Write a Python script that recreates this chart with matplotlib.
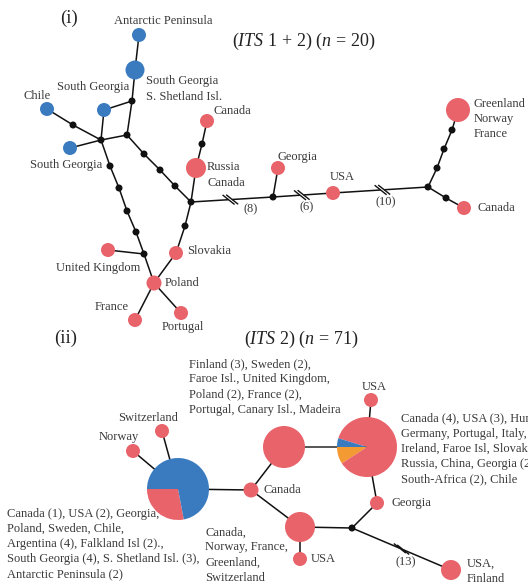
import numpy as np
import matplotlib
matplotlib.use("Agg")
import matplotlib.pyplot as plt
from matplotlib.patches import Circle, Wedge

plt.rcParams['font.family'] = ['Liberation Serif', 'DejaVu Serif']
plt.rcParams['mathtext.fontset'] = 'custom'
plt.rcParams['mathtext.rm'] = 'Liberation Serif'
plt.rcParams['mathtext.it'] = 'Liberation Serif:italic'

RED = '#e8636a'
BLUE = '#3a7bbf'
ORANGE = '#f39a33'
TXT = '#3a3a3a'

# ---- network (i): ITS 1+2, n = 20 ----
# node: (x, y, kind, radius)   kind: r = sampled red, b = sampled blue, m = median vector
nodes_i = {
    'ant': (139, 35, 'b', 7), 'sgs': (135, 70, 'b', 9.5), 'm1': (132, 101, 'm', 3.5),
    'sg1': (104, 110, 'b', 7), 'm2': (127, 135, 'm', 3.5), 'm3': (101, 140, 'm', 3.5),
    'm4': (73, 125, 'm', 3.5), 'chile': (47, 109, 'b', 7), 'sg2': (70, 148, 'b', 7),
    'm5': (144, 154, 'm', 3.5), 'm6': (160, 170, 'm', 3.5), 'm7': (175, 186, 'm', 3.5),
    'hub1': (191, 202, 'm', 3.5), 'rc': (196, 168, 'r', 10), 'm8': (202, 144, 'm', 3.5),
    'can1': (207, 121, 'r', 7), 'm9': (110, 166, 'm', 3.5), 'm10': (119, 188, 'm', 3.5),
    'm11': (127, 211, 'm', 3.5), 'm12': (136, 232, 'm', 3.5), 'm13': (144, 254, 'm', 3.5),
    'uk': (108, 250, 'r', 7), 'pol': (154, 283, 'r', 7.5), 'fra': (135, 320, 'r', 7),
    'por': (181, 313, 'r', 7), 'slo': (176, 253, 'r', 7), 'm14': (185, 226, 'm', 3.5),
    'hubg': (273, 197, 'm', 3.5), 'geo': (278, 168, 'r', 7), 'usa': (333, 193, 'r', 7),
    'hub2': (428, 187, 'm', 3.5), 'm15': (437, 168, 'm', 3.5), 'm16': (444, 149, 'm', 3.5),
    'm17': (452, 130, 'm', 3.5), 'gnf': (458, 110, 'r', 12), 'm18': (446, 198, 'm', 3.5),
    'can2': (464, 208, 'r', 7),
}
edges_i = [('ant', 'sgs'), ('sgs', 'm1'), ('m1', 'sg1'), ('m1', 'm2'), ('m2', 'm3'),
           ('m3', 'sg1'), ('m3', 'm4'), ('m4', 'chile'), ('m3', 'sg2'), ('m3', 'm9'),
           ('m9', 'm10'), ('m10', 'm11'), ('m11', 'm12'), ('m12', 'm13'), ('m13', 'uk'),
           ('m13', 'pol'), ('pol', 'fra'), ('pol', 'por'), ('pol', 'slo'), ('slo', 'm14'),
           ('m14', 'hub1'), ('m2', 'm5'), ('m5', 'm6'), ('m6', 'm7'), ('m7', 'hub1'),
           ('hub1', 'rc'), ('rc', 'm8'), ('m8', 'can1'), ('hub1', 'hubg'), ('hubg', 'geo'),
           ('hubg', 'usa'), ('usa', 'hub2'), ('hub2', 'm15'), ('m15', 'm16'), ('m16', 'm17'),
           ('m17', 'gnf'), ('hub2', 'm18'), ('m18', 'can2')]
# long branches: (edge, position along edge, number of mutations, label offset)
breaks_i = [(('hub1', 'hubg'), 0.48, 8, (20, 10)),
            (('hubg', 'usa'), 0.48, 6, (5, 12)),
            (('usa', 'hub2'), 0.52, 10, (3, 12))]

labels_i = [
    ('Antarctic Peninsula', 163, 21, 'center'),
    ('South Georgia', 129, 87, 'right'),
    ('Chile', 37, 96, 'center'),
    ('South Georgia\nS. Shetland Isl.', 146, 89, 'left'),
    ('Canada', 213, 111, 'left'),
    ('South Georgia', 102, 165, 'right'),
    ('Russia\nCanada', 207, 175, 'left'),
    ('Georgia', 277, 157, 'left'),
    ('USA', 342, 177, 'center'),
    ('Greenland\nNorway\nFrance', 474, 119, 'left'),
    ('Canada', 477, 208, 'left'),
    ('Slovakia', 187, 251, 'left'),
    ('United Kingdom', 98, 268, 'center'),
    ('Poland', 165, 283, 'left'),
    ('France', 129, 307, 'right'),
    ('Portugal', 183, 327, 'center'),
]

# ---- network (ii): ITS 2, n = 71 ----
nodes_ii = {
    'nor': (133, 451, 'r', 7), 'swi': (162, 431, 'r', 7), 'p1': (178, 489, 'pie', 31),
    'can': (251, 490, 'r', 7.5), 'br': (284, 447, 'r', 21), 'p2': (367, 447, 'pie', 30),
    'usat': (371, 400, 'r', 7), 'geo': (377, 503, 'r', 7), 'm': (352, 528, 'm', 3.5),
    'bb': (300, 527, 'r', 15), 'usas': (300, 559, 'r', 7), 'uf': (451, 570, 'r', 10),
}
edges_ii = [('nor', 'p1'), ('swi', 'p1'), ('p1', 'can'), ('can', 'br'), ('p2', 'usat'),
            ('p2', 'geo'), ('geo', 'm'), ('m', 'bb'), ('bb', 'can'), ('bb', 'usas'), ('m', 'uf')]
grey_edges_ii = [('br', 'p2')]
breaks_ii = [(('m', 'uf'), 0.5, 13, (4, 13))]

# pie slices: fractions and colours, start angle (degrees, counter-clockwise on screen)
pie1_frac = [0.28, 0.72]
pie1_col = [RED, BLUE]
pie1_start = 180
pie2_frac = [0.092, 0.861, 0.047]
pie2_col = [ORANGE, RED, BLUE]
pie2_start = 180

labels_ii = [
    ('Switzerland', 148, 418, 'center'),
    ('Norway', 119, 437, 'center'),
    ('Canada (1), USA (2), Georgia,\nPoland, Sweden, Chile,\nArgentina (4), Falkland Isl (2).,\n'
     'South Georgia (4), S. Shetland Isl. (3),\nAntarctic Peninsula (2)', 7, 544, 'left'),
    ('Finland (3), Sweden (2),\nFaroe Isl., United Kingdom,\nPoland (2), France (2),\n'
     'Portugal, Canary Isl., Madeira', 189, 387, 'left'),
    ('USA', 374, 387, 'center'),
    ('Canada (4), USA (3), Hungary,\nGermany, Portugal, Italy,\nIreland, Faroe Isl, Slovakia,\n'
     'Russia, China, Georgia (2),\nSouth-Africa (2), Chile', 401, 449, 'left'),
    ('Canada', 263, 490, 'left'),
    ('Georgia', 391, 503, 'left'),
    ('Canada,\nNorway, France,\nGreenland,\nSwitzerland', 205, 555, 'left'),
    ('USA', 311, 559, 'left'),
    ('USA,\nFinland', 467, 571, 'left'),
]

FS = 9.0

fig = plt.figure(figsize=(5.28, 5.85), dpi=100)
ax = fig.add_axes([0, 0, 1, 1])
ax.set_xlim(0, 528)
ax.set_ylim(585, 0)
ax.axis('off')


def draw_edges(nodes, edges, color='#111111', lw=1.1):
    for a, b in edges:
        xa, ya = nodes[a][:2]
        xb, yb = nodes[b][:2]
        ax.plot([xa, xb], [ya, yb], color=color, lw=lw, zorder=1, solid_capstyle='butt')


def draw_breaks(nodes, breaks):
    for (a, b), t, n, (dx, dy) in breaks:
        xa, ya = nodes[a][:2]
        xb, yb = nodes[b][:2]
        x, y = xa + t * (xb - xa), ya + t * (yb - ya)
        d = np.array([xb - xa, yb - ya], float)
        d /= np.hypot(*d)
        # white gap along the branch, then two slanted ticks
        ax.plot([x - 1.8 * d[0], x + 1.8 * d[0]], [y - 1.8 * d[1], y + 1.8 * d[1]],
                color='white', lw=2.5, zorder=1.5, solid_capstyle='butt')
        s = np.array([0.78, 0.62]) * 7
        for off in (-1.8, 1.8):
            cx, cy = x + off * d[0], y + off * d[1]
            ax.plot([cx - s[0], cx + s[0]], [cy - s[1], cy + s[1]],
                    color='#111111', lw=1.0, zorder=1.6)
        ax.text(x + dx, y + dy, f'({n})', ha='center', va='center', fontsize=FS, color=TXT)


def draw_nodes(nodes):
    for key, (x, y, kind, r) in nodes.items():
        if kind == 'pie':
            continue
        col = {'r': RED, 'b': BLUE, 'm': '#111111'}[kind]
        ax.add_patch(Circle((x, y), r, facecolor=col, edgecolor='none', zorder=2))


def draw_pie(center, r, fracs, cols, start):
    ang = start
    for f, c in zip(fracs, cols):
        a2 = ang + 360 * f
        # y axis is inverted, so screen angles are mirrored
        ax.add_patch(Wedge(center, r, -a2, -ang, facecolor=c, edgecolor='none', zorder=2))
        ang = a2


def draw_labels(labels):
    for txt, x, y, ha in labels:
        ax.text(x, y, txt, ha=ha, va='center', fontsize=FS, color=TXT, linespacing=1.34)


draw_edges(nodes_i, edges_i)
draw_breaks(nodes_i, breaks_i)
draw_nodes(nodes_i)
draw_labels(labels_i)

draw_edges(nodes_ii, edges_ii)
draw_edges(nodes_ii, grey_edges_ii, color='#555555', lw=1.4)
draw_breaks(nodes_ii, breaks_ii)
draw_nodes(nodes_ii)
draw_pie(nodes_ii['p1'][:2], nodes_ii['p1'][3], pie1_frac, pie1_col, pie1_start)
draw_pie(nodes_ii['p2'][:2], nodes_ii['p2'][3], pie2_frac, pie2_col, pie2_start)
draw_labels(labels_ii)

ax.text(69, 18, '(i)', ha='center', va='center', fontsize=13.5, color='#222222')
ax.text(304, 41, r'$(\mathit{ITS}\ 1\,+\,2)\ (n\,=\,20)$', ha='center', va='center',
        fontsize=13, color='#222222')
ax.text(66, 338, '(ii)', ha='center', va='center', fontsize=13.5, color='#222222')
ax.text(301, 339, r'$(\mathit{ITS}\ 2)\ (n\,=\,71)$', ha='center', va='center',
        fontsize=13, color='#222222')

fig.savefig('out.png', dpi=100)
